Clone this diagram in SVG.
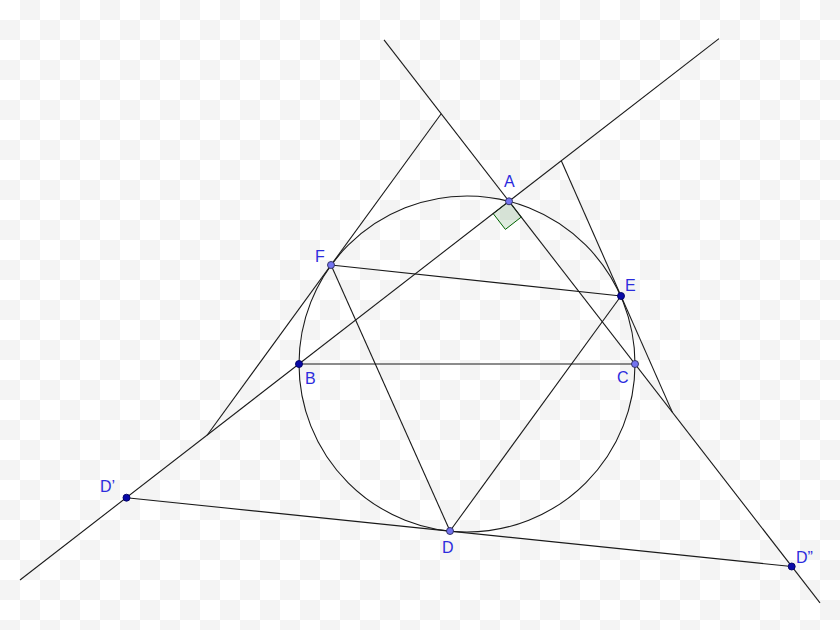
<svg xmlns="http://www.w3.org/2000/svg" width="840" height="630" viewBox="0 0 840 630">
<defs>
<pattern id="cb" width="40" height="40" patternUnits="userSpaceOnUse">
<rect width="40" height="40" fill="#ffffff"/>
<rect x="20" y="0" width="20" height="20" fill="#f4f4f4"/>
<rect x="0" y="20" width="20" height="20" fill="#f4f4f4"/>
</pattern>
<style>
.ln{stroke:#1a1a1a;stroke-width:1.1;fill:none}
.free{fill:#7373f0;stroke:#2a2a5a;stroke-width:0.9}
.dep{fill:#0a0aa8;stroke:#000060;stroke-width:0.9}
.lbl{font-family:"Liberation Sans",Arial,sans-serif;font-size:16px;fill:#2b2bdd}
.ang{fill:#006400;fill-opacity:0.12;stroke:#006400;stroke-width:1}
</style>
</defs>
<rect width="840" height="630" fill="url(#cb)"/>
<g id="circle">
<circle class="ln" cx="467" cy="364" r="168"/>
</g>
<g id="right-angle">
<polygon class="ang" points="509,201.3 493.2,213.6 505.4,229.4 521.2,217.1"/>
</g>
<g id="connectors">
<line class="ln" x1="20" y1="580" x2="719" y2="38.6"/>
<line class="ln" x1="384" y1="39.9" x2="820" y2="602.9"/>
<line class="ln" x1="299" y1="364" x2="635" y2="364"/>
<line class="ln" x1="331" y1="265" x2="621" y2="296"/>
<line class="ln" x1="621" y1="296" x2="450" y2="531"/>
<line class="ln" x1="450" y1="531" x2="331" y2="265"/>
<line class="ln" x1="126.5" y1="497.7" x2="791.7" y2="566.5"/>
<line class="ln" x1="207.1" y1="435.2" x2="441.2" y2="113.7"/>
<line class="ln" x1="561.3" y1="160.8" x2="672.3" y2="412.1"/>
</g>
<g id="A"><circle class="free" cx="509" cy="201.3" r="3.5"/><text class="lbl" x="504" y="187">A</text></g>
<g id="F"><circle class="free" cx="331" cy="265" r="3.5"/><text class="lbl" x="315" y="262">F</text></g>
<g id="E"><circle class="dep" cx="621" cy="296" r="3.5"/><text class="lbl" x="625" y="291">E</text></g>
<g id="B"><circle class="dep" cx="299" cy="364" r="3.5"/><text class="lbl" x="305" y="384">B</text></g>
<g id="C"><circle class="free" cx="635" cy="364" r="3.5"/><text class="lbl" x="617" y="383">C</text></g>
<g id="D"><circle class="free" cx="450" cy="531" r="3.5"/><text class="lbl" x="442" y="553">D</text></g>
<g id="D1"><circle class="dep" cx="126.5" cy="497.7" r="3.5"/><text class="lbl" x="100" y="492">D’</text></g>
<g id="D2"><circle class="dep" cx="791.7" cy="566.5" r="3.5"/><text class="lbl" x="796" y="563">D”</text></g>
</svg>
